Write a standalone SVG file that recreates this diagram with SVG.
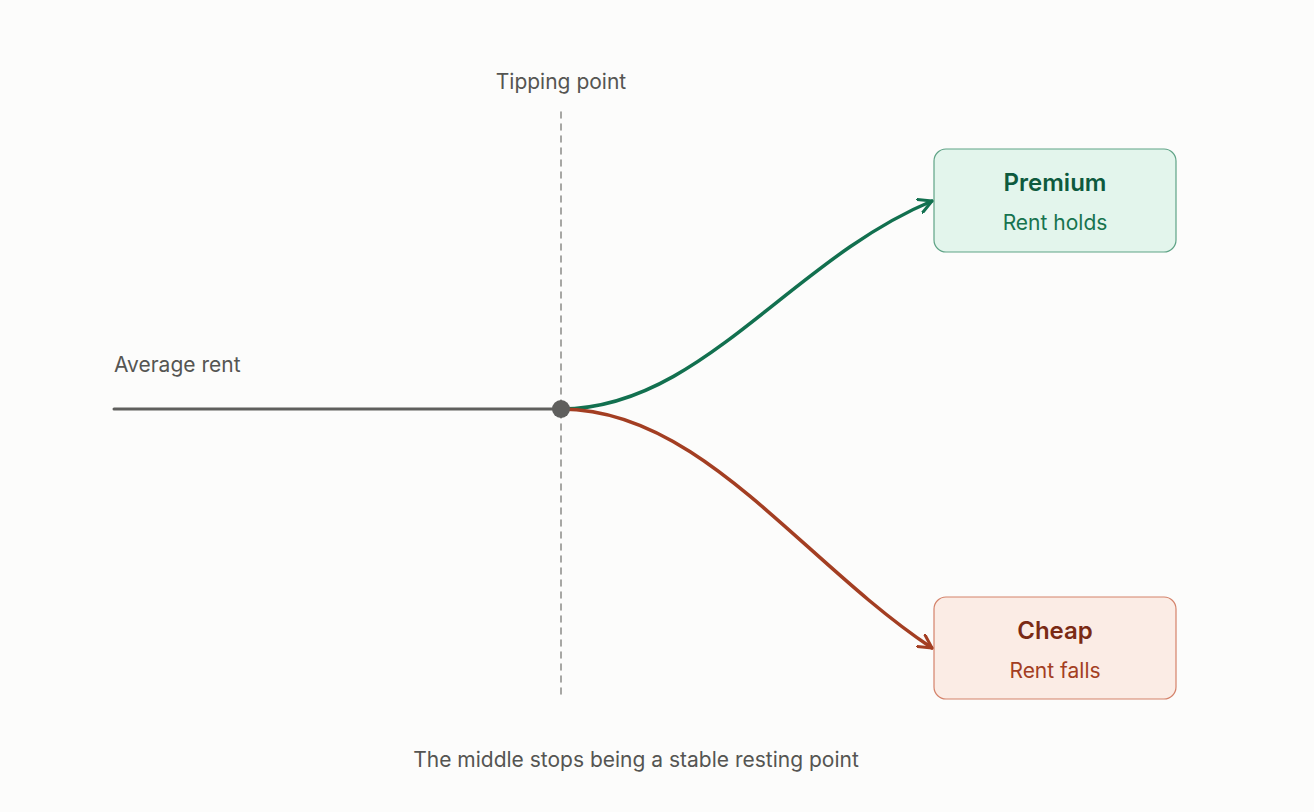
<svg xmlns="http://www.w3.org/2000/svg" width="1314" height="812" viewBox="0 0 1314 812">
<style>
text{font-family:"Inter","Liberation Sans",sans-serif}
.lbl{font-size:21px;fill:#555552}
.title{font-size:24px;font-weight:600;text-anchor:middle}
.sub{font-size:21px;text-anchor:middle}
</style>
<defs>
<marker id="ag" viewBox="0 0 16 16" refX="14" refY="8" markerWidth="16" markerHeight="16" markerUnits="userSpaceOnUse" orient="auto"><path d="M1,1 L14,8 L1,15" fill="none" stroke="#12704f" stroke-width="3" stroke-linecap="round" stroke-linejoin="round"/></marker>
<marker id="ar" viewBox="0 0 16 16" refX="14" refY="8" markerWidth="16" markerHeight="16" markerUnits="userSpaceOnUse" orient="auto"><path d="M1,1 L14,8 L1,15" fill="none" stroke="#a33e22" stroke-width="3" stroke-linecap="round" stroke-linejoin="round"/></marker>
</defs>
<rect width="1314" height="812" fill="#fcfcfb"/>
<g id="connectors" fill="none" stroke-width="3.5" stroke-linecap="round">
<line x1="561" y1="112" x2="561" y2="700" stroke="#8a8a88" stroke-width="1.5" stroke-dasharray="6,6"/>
<line x1="114" y1="409" x2="561" y2="409" stroke="#5f5f5d" stroke-width="3"/>
<path d="M561,409 C700,409 790,260 932,201" stroke="#12704f" marker-end="url(#ag)"/>
<path d="M561,409 C700,409 800,560 932,648" stroke="#a33e22" marker-end="url(#ar)"/>
<circle cx="561" cy="409" r="9" fill="#5f5f5d" stroke="none"/>
</g>
<g id="labels">
<text class="lbl" x="561" y="89" text-anchor="middle">Tipping point</text>
<text class="lbl" x="114" y="372">Average rent</text>
<text class="lbl" x="636" y="767" text-anchor="middle">The middle stops being a stable resting point</text>
</g>
<g id="premium">
<rect x="934" y="149" width="242" height="103" rx="12" fill="#e3f5ec" stroke="#5fa386" stroke-width="1.2"/>
<text class="title" x="1055" y="191" fill="#0e5a3e">Premium</text>
<text class="sub" x="1055" y="230" fill="#17734f">Rent holds</text>
</g>
<g id="cheap">
<rect x="934" y="597" width="242" height="102" rx="12" fill="#fbece5" stroke="#d4826a" stroke-width="1.2"/>
<text class="title" x="1055" y="639" fill="#7a2a14">Cheap</text>
<text class="sub" x="1055" y="678" fill="#a33e22">Rent falls</text>
</g>
</svg>
